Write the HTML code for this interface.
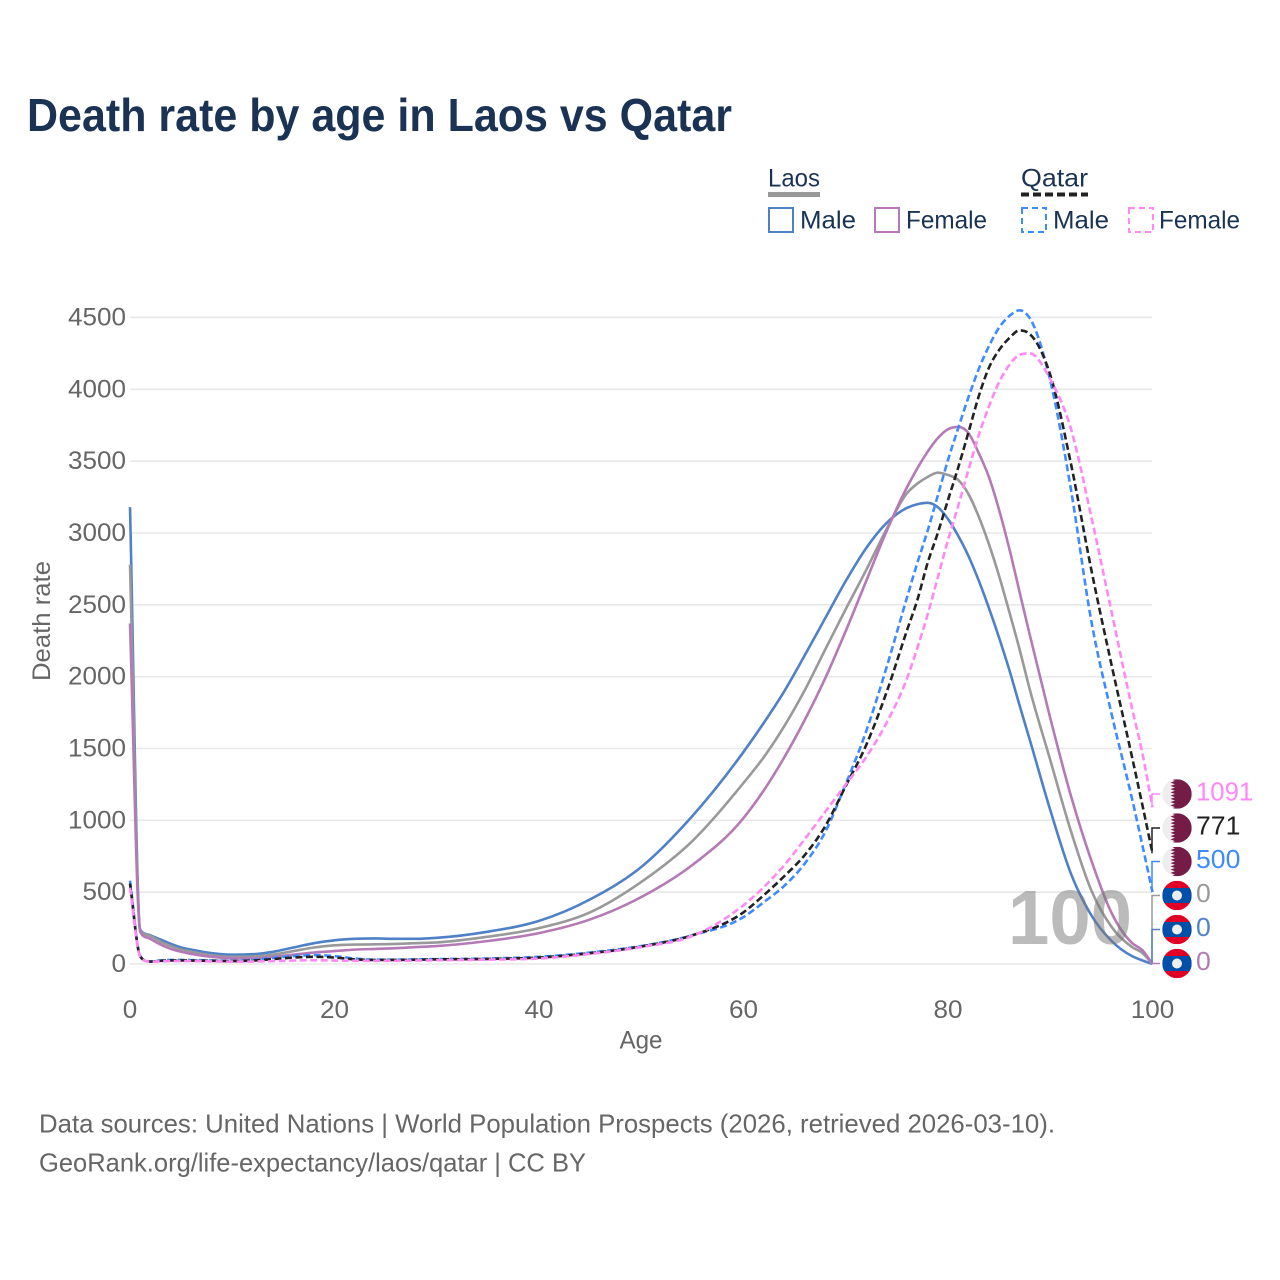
<!DOCTYPE html>
<html lang="en">
<head>
<meta charset="utf-8">
<title>Death rate by age in Laos vs Qatar</title>
<style>
html,body{margin:0;padding:0;background:#fff;}
svg{display:block;}
text{font-family:"Liberation Sans",sans-serif;}
</style>
</head>
<body>
<svg id="chart" xmlns="http://www.w3.org/2000/svg" width="1280" height="1280" viewBox="0 0 1280 1280">
  <rect x="0" y="0" width="1280" height="1280" fill="#ffffff"/>
  <text x="27" y="131" font-size="46" font-weight="700" fill="#1a3354" textLength="705" lengthAdjust="spacingAndGlyphs">Death rate by age in Laos vs Qatar</text>

  <g>
    <text x="768" y="186.5" font-size="25" fill="#1a3354" textLength="52" lengthAdjust="spacingAndGlyphs">Laos</text>
    <rect x="768" y="192" width="52" height="5" fill="#999999"/>
    <text x="1021" y="186.5" font-size="25" fill="#1a3354" textLength="67" lengthAdjust="spacingAndGlyphs">Qatar</text>
    <line x1="1021" y1="194.5" x2="1088" y2="194.5" stroke="#222222" stroke-width="4" stroke-dasharray="8 4"/>
    <rect x="769" y="208" width="24" height="24" fill="none" stroke="#4f81c7" stroke-width="2"/>
    <text x="800" y="228.5" font-size="25" fill="#1a3354" textLength="56" lengthAdjust="spacingAndGlyphs">Male</text>
    <rect x="875" y="208" width="24" height="24" fill="none" stroke="#b57ab5" stroke-width="2"/>
    <text x="906" y="228.5" font-size="25" fill="#1a3354" textLength="81" lengthAdjust="spacingAndGlyphs">Female</text>
    <rect x="1022" y="208" width="24" height="24" fill="none" stroke="#3d8bff" stroke-width="2" stroke-dasharray="6 4"/>
    <text x="1053" y="228.5" font-size="25" fill="#1a3354" textLength="56" lengthAdjust="spacingAndGlyphs">Male</text>
    <rect x="1129" y="208" width="24" height="24" fill="none" stroke="#ff88f5" stroke-width="2" stroke-dasharray="6 4"/>
    <text x="1159" y="228.5" font-size="25" fill="#1a3354" textLength="81" lengthAdjust="spacingAndGlyphs">Female</text>
  </g>

  <g id="grid"></g>
  <g id="yticks"></g>
  <g id="xticks"></g>
  <text transform="translate(50,621) rotate(-90)" text-anchor="middle" font-size="25" fill="#666666" textLength="120" lengthAdjust="spacingAndGlyphs">Death rate</text>
  <text x="641" y="1048.5" text-anchor="middle" font-size="25" fill="#666666" textLength="43" lengthAdjust="spacingAndGlyphs">Age</text>

  <g id="series"></g>
  <text x="1070" y="944" text-anchor="middle" font-size="77" font-weight="700" fill="#777777" fill-opacity="0.5" textLength="124" lengthAdjust="spacingAndGlyphs">100</text>
  <g id="endlabels"></g>

  <text x="39" y="1132.5" font-size="26" fill="#666666" textLength="1016" lengthAdjust="spacingAndGlyphs">Data sources: United Nations | World Population Prospects (2026, retrieved 2026-03-10).</text>
  <text x="39" y="1171.5" font-size="26" fill="#666666" textLength="547" lengthAdjust="spacingAndGlyphs">GeoRank.org/life-expectancy/laos/qatar | CC BY</text>
</svg>
<script>
const ages = [0,1,2,3,4,5,6,8,10,12,14,16,18,20,22,24,26,28,30,35,40,45,50,55,60,62,64,66,68,70,72,74,76,77,78,79,80,81,82,83,84,85,86,87,88,90,92,94,96,98,99,100];
const laosMale = [3180,240,200,170,140,115,100,75,65,68,85,115,145,165,175,178,175,175,182,225,300,450,675,1030,1476,1680,1900,2150,2408,2666,2895,3070,3175,3200,3210,3180,3097,2980,2840,2670,2478,2270,2046,1800,1560,1072,633,341,160,55,25,0];
const laosTotal = [2780,235,195,155,125,100,85,60,50,52,65,90,115,130,135,137,140,145,150,190,250,360,571,856,1260,1441,1657,1907,2190,2470,2742,3028,3278,3344,3390,3420,3404,3369,3271,3115,2923,2700,2450,2190,1910,1420,930,515,258,118,77,0];
const laosFemale = [2370,225,175,135,105,85,70,50,40,40,50,65,80,90,100,105,110,118,125,160,215,310,466,689,1016,1210,1440,1700,1990,2318,2666,3014,3320,3450,3565,3660,3722,3738,3696,3557,3390,3160,2890,2590,2290,1712,1176,724,355,146,97,0];
const qatarMale = [580,55,18,25,28,28,27,25,22,28,42,55,62,55,38,30,30,32,34,38,50,80,125,200,327,431,545,700,920,1253,1620,2067,2554,2791,3014,3260,3508,3730,3945,4140,4300,4430,4510,4550,4495,4060,3313,2394,1740,1150,830,500];
const qatarTotal = [560,52,17,22,25,25,24,22,20,24,34,45,50,45,32,28,28,30,32,35,45,75,122,200,360,480,612,759,960,1239,1524,1893,2325,2533,2790,3000,3230,3456,3700,3950,4150,4274,4357,4410,4385,4100,3490,2750,2080,1440,1110,771];
const qatarFemale = [530,50,16,18,20,20,20,18,16,17,20,24,26,24,22,22,22,24,26,30,38,70,118,195,410,536,689,870,1060,1250,1440,1680,1990,2200,2430,2690,2951,3190,3440,3680,3880,4050,4170,4240,4250,4070,3730,3118,2450,1780,1470,1091];
const yTickValues = [0,500,1000,1500,2000,2500,3000,3500,4000,4500];
const xTickValues = [0,20,40,60,80,100];

const NS = 'http://www.w3.org/2000/svg';
const xScale = a => 130 + a * 10.225;
const yScale = v => 964 - v * 0.14367;

function make(tag, attrs, parent, content) {
  const el = document.createElementNS(NS, tag);
  for (const k in attrs) el.setAttribute(k, attrs[k]);
  if (content !== undefined) el.textContent = content;
  parent.appendChild(el);
  return el;
}

function smoothPath(xs, ys) {
  const n = xs.length;
  const d = [], m = new Array(n);
  for (let i = 0; i < n - 1; i++) d.push((ys[i + 1] - ys[i]) / (xs[i + 1] - xs[i]));
  m[0] = d[0];
  m[n - 1] = d[n - 2];
  for (let i = 1; i < n - 1; i++) {
    if (d[i - 1] * d[i] <= 0) {
      m[i] = 0;
    } else {
      const h0 = xs[i] - xs[i - 1], h1 = xs[i + 1] - xs[i];
      const mean = (d[i - 1] * h1 + d[i] * h0) / (h0 + h1);
      const limit = 3 * Math.min(Math.abs(d[i - 1]), Math.abs(d[i]));
      m[i] = Math.sign(mean) * Math.min(Math.abs(mean), limit);
    }
  }
  let p = 'M' + xs[0].toFixed(2) + ' ' + ys[0].toFixed(2);
  for (let i = 0; i < n - 1; i++) {
    const h = (xs[i + 1] - xs[i]) / 3;
    p += 'C' + (xs[i] + h).toFixed(2) + ' ' + (ys[i] + m[i] * h).toFixed(2) + ' ' +
         (xs[i + 1] - h).toFixed(2) + ' ' + (ys[i + 1] - m[i + 1] * h).toFixed(2) + ' ' +
         xs[i + 1].toFixed(2) + ' ' + ys[i + 1].toFixed(2);
  }
  return p;
}

const gridG = document.getElementById('grid');
const yG = document.getElementById('yticks');
const xG = document.getElementById('xticks');
yTickValues.forEach(v => {
  const line = make('line', {x1: 130, x2: 1152, y1: yScale(v), y2: yScale(v), stroke: '#e8e8e8', 'stroke-width': 1.6}, gridG);
  
  
  const label = make('text', {x: 126, y: yScale(v) + 8, 'text-anchor': 'end', 'font-size': 25, fill: '#666666', textLength: String(v).length * 14.5, lengthAdjust: 'spacingAndGlyphs'}, yG, String(v));
  
  
});
xTickValues.forEach(a => {
  const label = make('text', {x: xScale(a), y: 1018, 'text-anchor': 'middle', 'font-size': 25, fill: '#666666', textLength: String(a).length * 14.5, lengthAdjust: 'spacingAndGlyphs'}, xG, String(a));
  
  
});

const seriesG = document.getElementById('series');
const seriesDraw = [
  {key: 'laos-male', values: laosMale, color: '#4f81c7', dash: ''},
  {key: 'laos-total', values: laosTotal, color: '#999999', dash: ''},
  {key: 'laos-female', values: laosFemale, color: '#b57ab5', dash: ''},
  {key: 'qatar-male', values: qatarMale, color: '#3d8bff', dash: '7 3.5'},
  {key: 'qatar-total', values: qatarTotal, color: '#222222', dash: '7 3.5'},
  {key: 'qatar-female', values: qatarFemale, color: '#ff88f5', dash: '7 3.5'}
];
const xsPx = ages.map(xScale);
seriesDraw.forEach(s => {
  const attrs = {d: smoothPath(xsPx, s.values.map(yScale)), fill: 'none', stroke: s.color, 'stroke-width': 2.6, 'stroke-linejoin': 'round'};
  if (s.dash) attrs['stroke-dasharray'] = s.dash;
  const path = make('path', attrs, seriesG);
  
  
});

const endG = document.getElementById('endlabels');
const defs = make('defs', {}, endG);
const endRows = [
  {key: 'qatar-female', values: qatarFemale, color: '#ff88f5', flag: 'qatar', cy: 794},
  {key: 'qatar-total', values: qatarTotal, color: '#222222', flag: 'qatar', cy: 828},
  {key: 'qatar-male', values: qatarMale, color: '#3d8bff', flag: 'qatar', cy: 861.5},
  {key: 'laos-total', values: laosTotal, color: '#999999', flag: 'laos', cy: 895.5},
  {key: 'laos-male', values: laosMale, color: '#4f81c7', flag: 'laos', cy: 929.5},
  {key: 'laos-female', values: laosFemale, color: '#b57ab5', flag: 'laos', cy: 963.5}
];
const FX = 1177, FR = 14.7;
endRows.forEach((r, i) => {
  const last = r.values[r.values.length - 1];
  const connector = make('path', {d: 'M1152 ' + yScale(last) + 'V' + r.cy + 'H1160', fill: 'none', stroke: r.color, 'stroke-width': 1.5}, endG);
  
  

  const clip = make('clipPath', {id: 'flag-clip-' + i}, defs);
  make('circle', {cx: FX, cy: r.cy, r: FR}, clip);
  const flag = make('g', {'clip-path': 'url(#flag-clip-' + i + ')'}, endG);
  
  
  if (r.flag === 'qatar') {
    make('rect', {x: FX - FR, y: r.cy - FR, width: FR * 2, height: FR * 2, fill: '#eeeeee'}, flag);
    let pts = (FX + FR) + ',' + (r.cy - FR) + ' ' + (FX - 6.5) + ',' + (r.cy - FR);
    const teeth = 9, step = (FR * 2) / teeth;
    for (let t = 0; t < teeth; t++) {
      pts += ' ' + (FX - 2) + ',' + (r.cy - FR + step * (t + 0.5)) + ' ' + (FX - 6.5) + ',' + (r.cy - FR + step * (t + 1));
    }
    pts += ' ' + (FX + FR) + ',' + (r.cy + FR);
    make('polygon', {points: pts, fill: '#741b47'}, flag);
  } else {
    make('rect', {x: FX - FR, y: r.cy - FR, width: FR * 2, height: FR * 2, fill: '#e00025'}, flag);
    make('rect', {x: FX - FR, y: r.cy - 7.5, width: FR * 2, height: 15, fill: '#0050aa'}, flag);
    make('circle', {cx: FX, cy: r.cy, r: 5, fill: '#eeeeee'}, flag);
  }

  const text = String(last);
  const label = make('text', {x: 1196, y: r.cy + 6.5, 'font-size': 26, fill: r.color, textLength: text.length * 14.8 - (text.length > 3 ? 2 : 0), lengthAdjust: 'spacingAndGlyphs'}, endG, text);
  
  
});
</script>
</body>
</html>
